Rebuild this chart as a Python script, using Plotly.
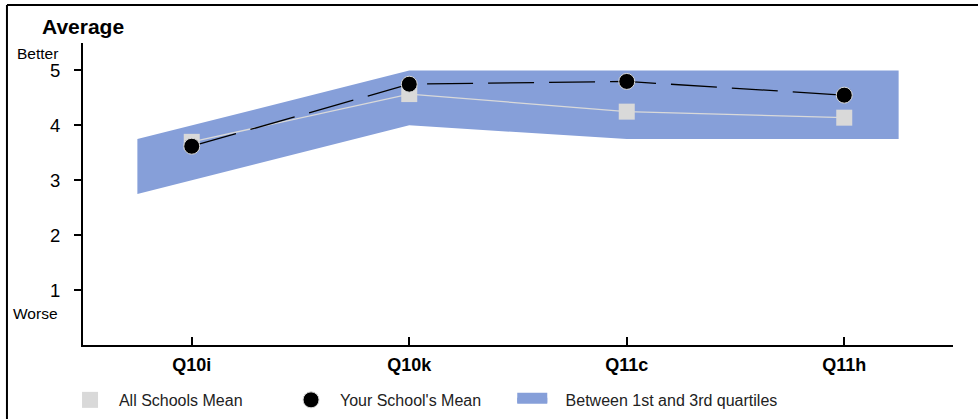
import plotly.graph_objects as go

categories = ["Q10i", "Q10k", "Q11c", "Q11h"]
all_schools_mean = [3.70, 4.57, 4.25, 4.14]
your_school_mean = [3.62, 4.75, 4.80, 4.55]
q1 = [3.0, 4.0, 3.75, 3.75]
q3 = [4.0, 5.0, 5.0, 5.0]
y_ticks = [1, 2, 3, 4, 5]

BAND = "#869fd9"
GREY = "#d9d9d9"
FONT = "Liberation Sans, Arial, sans-serif"

xs = list(range(len(categories)))
pad = 0.25


def extend(v):
    left = v[0] - pad * (v[1] - v[0])
    right = v[-1] + pad * (v[-1] - v[-2])
    return [left] + list(v) + [right]


bx = [xs[0] - pad] + xs + [xs[-1] + pad]
band_x = bx + bx[::-1]
band_y = extend(q3) + extend(q1)[::-1]

fig = go.Figure()
fig.add_trace(go.Scatter(x=band_x, y=band_y, fill="toself", fillcolor=BAND,
                         mode="lines", line=dict(width=0, color=BAND),
                         hoverinfo="skip", showlegend=False))
fig.add_trace(go.Scatter(x=xs, y=all_schools_mean, mode="lines",
                         line=dict(color=GREY, width=1.3), showlegend=False))
fig.add_trace(go.Scatter(x=xs, y=all_schools_mean, mode="markers",
                         marker=dict(symbol="square", size=16, color=GREY),
                         name="&nbsp;&nbsp;All Schools Mean", legendrank=1))
fig.add_trace(go.Scatter(x=xs, y=your_school_mean, mode="lines",
                         line=dict(color="black", width=1.3, dash="46px,15px"),
                         showlegend=False))
fig.add_trace(go.Scatter(x=xs, y=your_school_mean, mode="markers",
                         marker=dict(symbol="circle", size=16, color="black",
                                     line=dict(color=GREY, width=1)),
                         name="&nbsp;&nbsp;Your School's Mean", legendrank=2))
fig.add_trace(go.Scatter(x=[None], y=[None], fill="toself", fillcolor=BAND,
                         mode="lines", line=dict(width=10, color=BAND),
                         name="&nbsp;&nbsp;&nbsp;Between 1st and 3rd quartiles",
                         legend="legend2"))

fig.update_layout(
    width=978, height=419,
    margin=dict(l=83, r=25, t=43, b=74, autoexpand=False),
    paper_bgcolor="white", plot_bgcolor="white",
    font=dict(family=FONT, color="black"),
    showlegend=True,
    legend=dict(orientation="h", x=-0.0149, xanchor="left", y=-0.182, yanchor="middle",
                entrywidth=176, entrywidthmode="pixels",
                font=dict(size=16, color="#222222"), bgcolor="rgba(0,0,0,0)",
                traceorder="normal"),
    legend2=dict(orientation="h", x=0.4934, xanchor="left", y=-0.182, yanchor="middle",
                 font=dict(size=16, color="#222222"), bgcolor="rgba(0,0,0,0)"),
    xaxis=dict(range=[-0.5, 3.5], tickvals=xs, ticktext=categories,
               showgrid=False, zeroline=False, showline=True, linecolor="black",
               linewidth=2, ticks="inside", ticklen=8, tickwidth=2, tickcolor="black",
               ticklabelstandoff=2,
               tickfont=dict(size=18, family=FONT, weight="bold"), fixedrange=True),
    yaxis=dict(range=[0, 5.5], tickvals=y_ticks, showgrid=False, zeroline=False,
               showline=True, linecolor="black", linewidth=2, ticks="outside",
               ticklen=7, tickwidth=2, tickcolor="black", ticklabelstandoff=10,
               tickfont=dict(size=18.5, family=FONT), fixedrange=True),
    annotations=[
        dict(text="<b>Average</b>", xref="paper", yref="paper", x=-0.0495, y=1.056,
             xanchor="left", yanchor="middle", showarrow=False,
             font=dict(size=21, family=FONT)),
        dict(text="Better", xref="paper", yref="y", x=-0.026, y=5.31,
             xanchor="right", yanchor="middle", showarrow=False,
             font=dict(size=15.5, family=FONT)),
        dict(text="Worse", xref="paper", yref="y", x=-0.026, y=0.565,
             xanchor="right", yanchor="middle", showarrow=False,
             font=dict(size=15.5, family=FONT)),
    ],
    shapes=[
        dict(type="line", xref="paper", yref="paper", x0=-0.0874, x1=-0.0874,
             y0=-0.3, y1=1.126, line=dict(color="black", width=2)),
        dict(type="line", xref="paper", yref="paper", x0=-0.0874, x1=1.05,
             y0=1.126, y1=1.126, line=dict(color="black", width=2)),
    ],
)

fig.write_html("out.html", config={"displayModeBar": False},
               post_script="document.body.style.margin='0px';")
